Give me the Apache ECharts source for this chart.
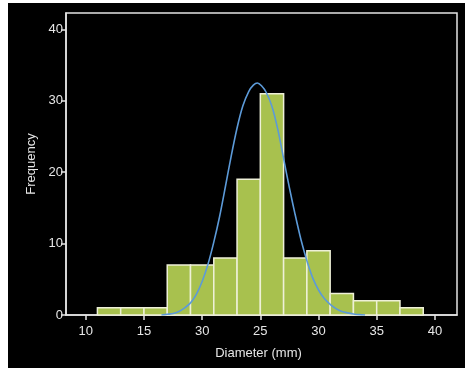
<!DOCTYPE html>
<html>
<head>
<meta charset="utf-8">
<script src="https://cdn.jsdelivr.net/npm/echarts@6/dist/echarts.min.js"></script>
<style>
html,body{margin:0;padding:0;background:#fff;}
#panel{position:absolute;left:8px;top:3px;width:457px;height:365px;background:#000;}
#chart{position:absolute;left:0;top:0;width:469px;height:369px;}
</style>
</head>
<body>
<div id="panel"></div>
<div id="chart"></div>
<script>
// Histogram bins (mm) and counts
const binEdges = [11,13,15,17,19,21,23,25,27,29,31,33,35,37,39];
const frequencies = [1,1,1,7,7,8,19,31,8,9,3,2,2,1];

// Fitted curve
const curveX = [16.5,17.0,17.5,18.0,18.5,19.0,19.5,20.0,20.5,21.0,21.5,22.0,22.5,23.0,23.5,24.0,24.4,24.75,25.1,25.5,26.0,26.5,27.0,27.5,28.0,28.5,29.0,29.5,30.0,30.5,31.0,31.5,32.0,32.5,33.0,33.5,34.0];
const curveY = [0,0.1,0.2,0.5,1.0,1.7,2.9,4.7,7.1,10.2,13.8,18.0,22.3,26.2,29.3,31.3,32.2,32.5,32.1,31.2,29.2,26.0,21.9,17.8,14.0,10.5,7.6,5.2,3.5,2.3,1.5,0.9,0.5,0.3,0.15,0.05,0];

// Axis ticks
const xTickValues = [10,15,20,25,30,35,40];
const xTickLabels = ['10','15','30','25','30','35','40'];
const yTickValues = [0,10,20,30,40];
const yTickLabels = ['0','10','20','30','40'];

const binData = frequencies.map((f, i) => [binEdges[i], binEdges[i+1], f]);
const curveData = curveX.map((x, i) => [x, curveY[i]]);

const textColor = '#e6e6e6';
const font = 'Liberation Sans, Arial, sans-serif';

const chart = echarts.init(document.getElementById('chart'));
chart.setOption({
  backgroundColor: 'transparent',
  animation: false,
  grid: {
    left: 66, right: 12, top: 13, bottom: 54,
    show: true, borderColor: '#e4e4e4', borderWidth: 1.5, backgroundColor: 'transparent'
  },
  xAxis: {
    type: 'value', min: 8.3, max: 41.9,
    name: 'Diameter (mm)', nameLocation: 'middle', nameGap: 32,
    nameTextStyle: { color: textColor, fontSize: 13, fontFamily: font, padding: [0, 6, 0, 0] },
    splitLine: { show: false },
    axisLine: { show: true, onZero: false, lineStyle: { color: '#e4e4e4', width: 1.5 } },
    axisTick: { show: true, customValues: xTickValues, length: 5, lineStyle: { color: '#e4e4e4', width: 1.5 } },
    axisLabel: {
      customValues: xTickValues, color: textColor, fontSize: 13, fontFamily: font, margin: 10,
      formatter: v => { const i = xTickValues.indexOf(v); return i >= 0 ? xTickLabels[i] : ''; }
    }
  },
  yAxis: {
    type: 'value', min: 0, max: 42.3,
    name: 'Frequency', nameLocation: 'middle', nameGap: 28,
    nameTextStyle: { color: textColor, fontSize: 13, fontFamily: font },
    splitLine: { show: false },
    axisLine: { show: true, lineStyle: { color: '#e4e4e4', width: 1.5 } },
    axisTick: { show: true, customValues: yTickValues, length: 5, lineStyle: { color: '#e4e4e4', width: 1.5 } },
    axisLabel: {
      customValues: yTickValues, color: textColor, fontSize: 13, fontFamily: font, margin: 3,
      formatter: v => { const i = yTickValues.indexOf(v); return i >= 0 ? yTickLabels[i] : ''; }
    }
  },
  series: [
    {
      type: 'custom',
      data: binData,
      encode: { x: [0, 1], y: 2 },
      renderItem: function (params, api) {
        const p0 = api.coord([api.value(0), api.value(2)]);
        const p1 = api.coord([api.value(1), 0]);
        return {
          type: 'rect',
          shape: { x: p0[0], y: p0[1], width: p1[0] - p0[0], height: p1[1] - p0[1] },
          style: { fill: '#a8c14e', stroke: '#eef0d8', lineWidth: 1.5 }
        };
      },
      z: 2
    },
    {
      type: 'line',
      data: curveData,
      smooth: 0.3,
      showSymbol: false,
      lineStyle: { color: '#5c9ad8', width: 1.6 },
      z: 3
    }
  ]
});
</script>
</body>
</html>
